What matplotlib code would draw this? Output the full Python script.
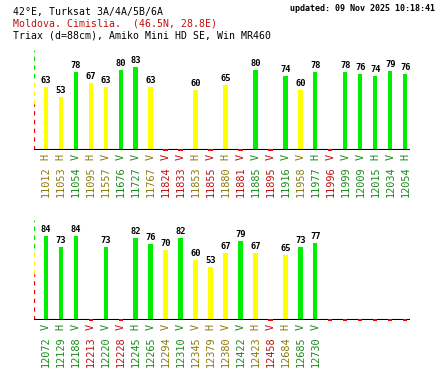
import matplotlib
matplotlib.use("Agg")
import matplotlib.pyplot as plt

# transponders, upper row
freq_top = ["11012", "11053", "11054", "11095", "11557", "11676", "11727", "11767",
            "11824", "11833", "11853", "11855", "11880", "11881", "11885", "11895",
            "11916", "11958", "11977", "11996", "11999", "12009", "12015", "12034", "12054"]
pol_top = ["H", "H", "V", "H", "V", "V", "V", "V", "V", "V", "H", "V", "H",
           "V", "V", "V", "V", "V", "H", "V", "V", "V", "H", "V", "H"]
val_top = [63, 53, 78, 67, 63, 80, 83, 63, None, None, 60, None, 65,
           None, 80, None, 74, 60, 78, None, 78, 76, 74, 79, 76]

# transponders, lower row (last 6 slots empty)
freq_bot = ["12072", "12129", "12188", "12213", "12220", "12228", "12245", "12265",
            "12294", "12310", "12345", "12379", "12380", "12422", "12423", "12458",
            "12684", "12685", "12730", "", "", "", "", "", ""]
pol_bot = ["V", "H", "V", "V", "V", "V", "H", "V", "V", "V", "V", "H", "V",
           "V", "H", "V", "H", "V", "V", "", "", "", "", "", ""]
val_bot = [84, 73, 84, None, 73, None, 82, 76, 70, 82, 60, 53, 67,
           79, 67, None, 65, 73, 77, None, None, None, None, None, None]

GOOD = 72
WEAK = 46
MONO = "DejaVu Sans Mono"

W, H = 440, 370
fig = plt.figure(figsize=(W / 100, H / 100), dpi=100)
fig.patch.set_facecolor("white")


def px_axes(x0, x1, ybase, ytop):
    return fig.add_axes([x0 / W, 1 - ybase / H, (x1 - x0) / W, (ybase - ytop) / H])


def draw_panel(ax, freqs, pols, vals):
    n = len(freqs)
    ax.set_xlim(-0.77, n - 1 + 0.27)
    ax.set_ylim(0, 100)
    ax.axis("off")
    ax.axhline(0, color="black", lw=1.5, zorder=2.5)
    # dashed scale on the left
    x0 = ax.get_xlim()[0]
    for lo, hi, c in [(GOOD, 100, "#00dd00"), (WEAK, GOOD, "#ffee00"), (0, WEAK, "#ee0000")]:
        ax.vlines(x0, lo, hi, colors=c, lw=0.9, linestyles=(0, (3.5, 3.5)))
    for i in range(n):
        v = vals[i]
        if v is None:
            ax.bar(i, 2, bottom=-1, width=0.27, color="#ff0000", zorder=3, clip_on=False)
            tc = "#c01010"
        else:
            if v >= GOOD:
                bc, tc = "#00ee00", "#1a8a1a"
            else:
                bc, tc = "#ffff00", "#8a7a10"
            ax.bar(i, v, width=0.27, color=bc, zorder=2)
            ax.annotate(str(v), (i, v), xytext=(0, 1.5), textcoords="offset points",
                        ha="center", va="bottom", fontsize=6.3, family=MONO,
                        fontweight="bold", color="black")
        if freqs[i]:
            ax.annotate(pols[i], (i, 0), xytext=(0, -3), textcoords="offset points",
                        ha="center", va="top", rotation=90, fontsize=7.4,
                        family=MONO, color=tc, annotation_clip=False)
            ax.annotate(freqs[i], (i, 0), xytext=(0, -11.5), textcoords="offset points",
                        ha="center", va="top", rotation=90, fontsize=7.4,
                        family=MONO, color=tc, annotation_clip=False)


ax1 = px_axes(34, 409.5, 150, 50)
draw_panel(ax1, freq_top, pol_top, val_top)
ax2 = px_axes(34, 409.5, 320, 220)
draw_panel(ax2, freq_bot, pol_bot, val_bot)

fig.text(13 / W, 1 - 15 / H, "42°E, Turksat 3A/4A/5B/6A", family=MONO, fontsize=7.15,
         color="black", va="baseline")
fig.text(13 / W, 1 - 26.5 / H, "Moldova. Cimislia.  (46.5N, 28.8E)", family=MONO,
         fontsize=7.15, color="#c01010", va="baseline")
fig.text(13 / W, 1 - 38 / H, "Triax (d=88cm), Amiko Mini HD SE, Win MR460", family=MONO,
         fontsize=7.15, color="black", va="baseline")
fig.text(290 / W, 1 - 11 / H, "updated: 09 Nov 2025 10:18:41", family=MONO, fontsize=6,
         fontweight="bold", color="black", va="baseline")

fig.savefig("out.png", dpi=100, facecolor="white")
